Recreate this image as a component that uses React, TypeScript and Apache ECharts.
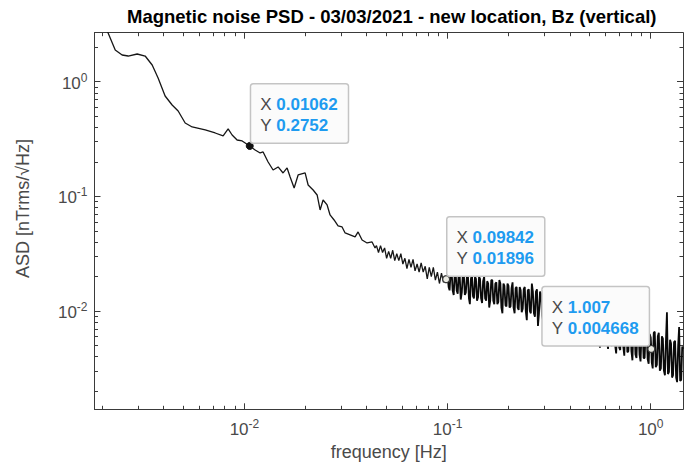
import React, { useEffect, useRef } from 'react';
import * as echarts from 'echarts';

// ---- data: [frequency Hz, ASD nTrms/√Hz] ----
const lowFreqPoints: [number, number][] = [
  [0.002018, 3.45], [0.002133, 2.659], [0.002312, 1.889], [0.0025, 1.709], [0.002679, 1.675],
  [0.002965, 1.744], [0.003246, 1.675], [0.003515, 1.398], [0.003759, 1.077], [0.00407, 0.7505],
  [0.004407, 0.6262], [0.004718, 0.5553], [0.005109, 0.4363], [0.00553, 0.4028], [0.006412, 0.3793],
  [0.007178, 0.357], [0.007856, 0.3362], [0.008315, 0.387], [0.008699, 0.343], [0.009204, 0.3102],
  [0.009748, 0.3041], [0.01062, 0.2752], [0.01129, 0.2538], [0.01195, 0.239], [0.01236, 0.2438],
  [0.01308, 0.1995], [0.01384, 0.1699], [0.01465, 0.1805], [0.0155, 0.16], [0.01622, 0.1769],
  [0.01679, 0.1476], [0.01757, 0.1183], [0.01838, 0.1537], [0.0199, 0.16], [0.02059, 0.1257],
  [0.02179, 0.1137], [0.0228, 0.1028], [0.02358, 0.0761], [0.02439, 0.09302], [0.02553, 0.08414],
  [0.0264, 0.06884], [0.02763, 0.06225], [0.02891, 0.05518], [0.03025, 0.05408], [0.03131, 0.04797],
  [0.03313, 0.04608], [0.03506, 0.04426], [0.03627, 0.04894], [0.03795, 0.04169], [0.04016, 0.03925],
  [0.0425, 0.04004], [0.04396, 0.03549],
];

const midFreqPoints: [number, number][] = [
  [0.04467, 0.03715], [0.04571, 0.03236], [0.04677, 0.03715], [0.04786, 0.03236], [0.04898, 0.03548],
  [0.05012, 0.02884], [0.05129, 0.03311], [0.05248, 0.02884], [0.0537, 0.03388], [0.05495, 0.02754],
  [0.05623, 0.03162], [0.05754, 0.02754], [0.05888, 0.03162], [0.06026, 0.0257], [0.06166, 0.02884],
  [0.0631, 0.02344], [0.06457, 0.02818], [0.06607, 0.02399], [0.06761, 0.02818], [0.06918, 0.02239],
  [0.07079, 0.0257], [0.07244, 0.02188], [0.07413, 0.0263], [0.07586, 0.02188], [0.07762, 0.02455],
  [0.07943, 0.01905], [0.08128, 0.02399], [0.08318, 0.01995], [0.08511, 0.02399], [0.0871, 0.01862],
  [0.08913, 0.02188], [0.0912, 0.01738], [0.09333, 0.02138], [0.0955, 0.01778], [0.09772, 0.01995],
  [0.09842, 0.01896],
];

const noiseBandPoints: [number, number][] = [
  [0.1, 0.02042], [0.1012, 0.01622], [0.1023, 0.01514], [0.1035, 0.02138], [0.1047, 0.02239],
  [0.1059, 0.01514], [0.1072, 0.0138], [0.1084, 0.02042], [0.1096, 0.02138], [0.1109, 0.01514],
  [0.1122, 0.01413], [0.1135, 0.02188], [0.1148, 0.01995], [0.1161, 0.01259], [0.1175, 0.01445],
  [0.1189, 0.02089], [0.1202, 0.02138], [0.1216, 0.0138], [0.123, 0.01445], [0.1245, 0.01995],
  [0.1259, 0.02089], [0.1274, 0.01288], [0.1288, 0.01148], [0.1303, 0.01905], [0.1318, 0.02089],
  [0.1334, 0.01349], [0.1349, 0.01288], [0.1365, 0.01995], [0.138, 0.01905], [0.1396, 0.0123],
  [0.1413, 0.01318], [0.1429, 0.01995], [0.1445, 0.01905], [0.1462, 0.01288], [0.1479, 0.01175],
  [0.1496, 0.0182], [0.1514, 0.01995], [0.1531, 0.01288], [0.1549, 0.0123], [0.1567, 0.0182],
  [0.1585, 0.01738], [0.1603, 0.01072], [0.1622, 0.0123], [0.1641, 0.01862], [0.166, 0.01862],
  [0.1679, 0.0123], [0.1698, 0.01148], [0.1718, 0.01738], [0.1738, 0.01778], [0.1758, 0.01148],
  [0.1778, 0.01202], [0.1799, 0.01862], [0.182, 0.01738], [0.1841, 0.01072], [0.1862, 0.00955],
  [0.1884, 0.01738], [0.1905, 0.0166], [0.1928, 0.01122], [0.195, 0.01096], [0.1972, 0.01738],
  [0.1995, 0.0166], [0.2018, 0.01072], [0.2042, 0.01096], [0.2065, 0.01585], [0.2089, 0.01778],
  [0.2113, 0.01072], [0.2138, 0.00955], [0.2163, 0.01585], [0.2188, 0.01622], [0.2213, 0.01072],
  [0.2239, 0.01023], [0.2265, 0.01622], [0.2291, 0.01514], [0.2317, 0.009772], [0.2344, 0.01047],
  [0.2371, 0.01549], [0.2399, 0.01622], [0.2427, 0.01], [0.2455, 0.008318], [0.2483, 0.01514],
  [0.2512, 0.01549], [0.2541, 0.01], [0.257, 0.00955], [0.26, 0.01738], [0.263, 0.01479],
  [0.2661, 0.00955], [0.2692, 0.008913], [0.2723, 0.01479], [0.2754, 0.01549], [0.2786, 0.007413],
  [0.2818, 0.00955],
  [0.2851, 0.01479], [0.2884, 0.01413], [0.2917, 0.00912], [0.2951, 0.008318], [0.2985, 0.0138],
  [0.302, 0.01445], [0.3055, 0.00912], [0.309, 0.008318], [0.3126, 0.0138], [0.3162, 0.01318],
  [0.3199, 0.008318], [0.3236, 0.007586], [0.3273, 0.01318], [0.3311, 0.01318], [0.335, 0.008318],
  [0.3388, 0.007943], [0.3428, 0.01318], [0.3467, 0.01259], [0.3508, 0.008318], [0.3548, 0.006918],
  [0.3589, 0.01202], [0.3631, 0.01288], [0.3673, 0.007413], [0.3715, 0.007762], [0.3758, 0.0123],
  [0.3802, 0.01175], [0.3846, 0.007413], [0.389, 0.006918], [0.3936, 0.01122], [0.3981, 0.0123],
  [0.4027, 0.007244], [0.4074, 0.006761], [0.4121, 0.01175], [0.4169, 0.01096], [0.4217, 0.006761],
  [0.4266, 0.006026], [0.4315, 0.01096], [0.4365, 0.01047], [0.4416, 0.007079], [0.4467, 0.006457],
  [0.4519, 0.01122], [0.4571, 0.01072], [0.4624, 0.006457], [0.4677, 0.005888], [0.4732, 0.01023],
  [0.4786, 0.01047], [0.4842, 0.006457], [0.4898, 0.006026], [0.4955, 0.01], [0.5012, 0.009772],
  [0.507, 0.006026], [0.5129, 0.005012], [0.5188, 0.01], [0.5248, 0.009333], [0.5309, 0.006026],
  [0.537, 0.005495], [0.5433, 0.01], [0.5495, 0.009333], [0.5559, 0.005754], [0.5623, 0.004786],
  [0.5689, 0.008913], [0.5754, 0.009333], [0.5821, 0.00537], [0.5888, 0.005248], [0.5957, 0.008913],
  [0.6026, 0.00912], [0.6095, 0.005495], [0.6166, 0.004677], [0.6237, 0.008318], [0.631, 0.00871],
  [0.6383, 0.005012], [0.6457, 0.005012], [0.6531, 0.00871], [0.6607, 0.008128], [0.6683, 0.005012],
  [0.6761, 0.004266], [0.6839, 0.008128], [0.6918, 0.008318], [0.6998, 0.004786], [0.7079, 0.004571],
  [0.7161, 0.007943], [0.7244, 0.007586], [0.7328, 0.004898], [0.7413, 0.004074], [0.7499, 0.007943],
  [0.7586, 0.007586], [0.7674, 0.004365], [0.7762, 0.004467], [0.7852, 0.007079], [0.7943, 0.007586],
  [0.8035, 0.004467], [0.8128, 0.003715], [0.8222, 0.007079], [0.8318, 0.007244], [0.8414, 0.004169],
  [0.8511, 0.00389], [0.861, 0.007244], [0.871, 0.006607], [0.881, 0.004169], [0.8913, 0.003631],
  [0.9016, 0.006607], [0.912, 0.006918], [0.9226, 0.00389], [0.9333, 0.00389], [0.9441, 0.006607],
  [0.955, 0.006457], [0.9661, 0.003802], [0.9772, 0.003467], [0.9886, 0.00631], [1.0, 0.005888],
  [1.007, 0.004668],
  [1.012, 0.003548], [1.023, 0.003162], [1.035, 0.006457], [1.047, 0.006607], [1.059, 0.003236],
  [1.072, 0.003388], [1.084, 0.006026], [1.096, 0.006457], [1.109, 0.00302], [1.122, 0.003162],
  [1.135, 0.006026], [1.148, 0.005754], [1.161, 0.00302], [1.175, 0.002754], [1.189, 0.005623],
  [1.202, 0.009772], [1.216, 0.002818], [1.23, 0.002951], [1.245, 0.005623], [1.259, 0.005248],
  [1.274, 0.00263], [1.288, 0.002754], [1.303, 0.00537], [1.318, 0.005495], [1.334, 0.00263],
  [1.349, 0.002399], [1.365, 0.005012], [1.38, 0.007244], [1.396, 0.002455], [1.413, 0.002512],
  [1.429, 0.004898], [1.445, 0.004677],
];

// data tips
const tipFreq = [0.01062, 0.09842, 1.007];
const tipAsd = [0.2752, 0.01896, 0.004668];

// axis ticks
const xMajorTicks = [0.01, 0.1, 1];
const xMinorTicks = [
  0.002, 0.003, 0.004, 0.005, 0.006, 0.007, 0.008, 0.009,
  0.02, 0.03, 0.04, 0.05, 0.06, 0.07, 0.08, 0.09,
  0.2, 0.3, 0.4, 0.5, 0.6, 0.7, 0.8, 0.9,
];
const yMajorTicks = [0.01, 0.1, 1];
const yMinorTicks = [
  0.002, 0.003, 0.004, 0.005, 0.006, 0.007, 0.008, 0.009,
  0.02, 0.03, 0.04, 0.05, 0.06, 0.07, 0.08, 0.09,
  0.2, 0.3, 0.4, 0.5, 0.6, 0.7, 0.8, 0.9, 2,
];

const titleText = 'Magnetic noise PSD - 03/03/2021 - new location, Bz (vertical)';
const xName = 'frequency [Hz]';
const yName = 'ASD [nTrms/√Hz]';

const X_MIN = 0.001828;
const X_MAX = 1.442;
const Y_MIN = 0.00139;
const Y_MAX = 2.675;

const FONT = "'Liberation Sans', Arial, Helvetica, sans-serif";
const AXIS_COLOR = '#3a3a3a';
const LABEL_COLOR = '#4a4a4a';

const powLabel = (v: number) => `{b|10}{e|${Math.round(Math.log10(v))}}`;
const powRich = {
  b: { fontSize: 17, lineHeight: 20, verticalAlign: 'bottom', color: LABEL_COLOR, fontFamily: FONT },
  e: { fontSize: 12, lineHeight: 12, verticalAlign: 'top', color: LABEL_COLOR, fontFamily: FONT },
};

function makeAxis(kind: 'x' | 'y', pos: string, major: boolean, withLabels: boolean) {
  const isX = kind === 'x';
  return {
    type: 'log',
    logBase: 10,
    position: pos,
    min: isX ? X_MIN : Y_MIN,
    max: isX ? X_MAX : Y_MAX,
    axisLine: { show: major, onZero: false, lineStyle: { color: AXIS_COLOR, width: 1 } },
    axisTick: {
      show: true,
      inside: true,
      length: major ? 6 : 3.5,
      customValues: major ? (isX ? xMajorTicks : yMajorTicks) : isX ? xMinorTicks : yMinorTicks,
      lineStyle: { color: AXIS_COLOR, width: 1 },
    },
    axisLabel: withLabels
      ? {
          show: true,
          customValues: isX ? xMajorTicks : yMajorTicks,
          formatter: powLabel,
          rich: powRich,
          margin: isX ? 9 : 7,
        }
      : { show: false },
    splitLine: { show: false },
    minorTick: { show: false },
    minorSplitLine: { show: false },
  };
}

export default function App() {
  const ref = useRef<HTMLDivElement>(null);

  useEffect(() => {
    document.body.style.margin = '0';
    if (!ref.current) return;
    const chart = echarts.init(ref.current, undefined, { renderer: 'svg' });

    const smoothData = [...lowFreqPoints, ...midFreqPoints];
    const bandData = [midFreqPoints[midFreqPoints.length - 1], ...noiseBandPoints];
    const tipOffsets = [
      { position: [5.5, 0.5], align: 'left' },
      { position: [5.5, 0.5], align: 'left' },
      { position: [1.5, 0.5], align: 'right' },
    ];
    const tipData = tipFreq.map((f, i) => ({
      value: [f, tipAsd[i]],
      symbolSize: 7,
      itemStyle:
        i === 0
          ? { color: '#111', borderColor: '#111', borderWidth: 1, opacity: 1 }
          : { color: '#ecece4', borderColor: '#3a3a3a', borderWidth: 1.3, opacity: 1 },
      label: {
        show: true,
        opacity: 1,
        position: tipOffsets[i].position,
        align: tipOffsets[i].align,
        verticalAlign: 'bottom',
        formatter: `{k|X }{v|${f}}\n{k|Y }{v|${tipAsd[i]}}`,
      },
    }));

    chart.setOption({
      animation: false,
      backgroundColor: '#ffffff',
      title: {
        text: titleText,
        left: 122,
        top: 2,
        textStyle: { fontSize: 18.5, fontWeight: 'bold', color: '#000', fontFamily: FONT },
      },
      grid: { left: 94.5, top: 32.7, right: 2, bottom: 59.7, containLabel: false, outerBoundsMode: 'none' },
      xAxis: [
        {
          ...makeAxis('x', 'bottom', true, true),
          name: xName,
          nameLocation: 'middle',
          nameGap: 33,
          nameTextStyle: { fontSize: 18, color: LABEL_COLOR, fontFamily: FONT },
        },
        makeAxis('x', 'top', true, false),
        makeAxis('x', 'bottom', false, false),
        makeAxis('x', 'top', false, false),
      ],
      yAxis: [
        makeAxis('y', 'left', true, true),
        makeAxis('y', 'right', true, false),
        makeAxis('y', 'left', false, false),
        makeAxis('y', 'right', false, false),
      ],
      graphic: [
        {
          type: 'text',
          x: 22.5,
          y: 208.5,
          rotation: Math.PI / 2,
          style: {
            text: yName,
            fontSize: 18,
            fill: LABEL_COLOR,
            fontFamily: FONT,
            align: 'center',
            verticalAlign: 'middle',
          },
        },
      ],
      series: [
        {
          type: 'line',
          xAxisIndex: 0,
          yAxisIndex: 0,
          data: smoothData,
          showSymbol: false,
          symbol: 'none',
          clip: true,
          lineStyle: { color: '#161616', width: 1.3 },
          z: 1,
        },
        {
          type: 'line',
          xAxisIndex: 0,
          yAxisIndex: 0,
          data: bandData,
          showSymbol: false,
          symbol: 'none',
          clip: true,
          lineStyle: { color: '#0a0a0a', width: 1.8 },
          z: 1,
        },
        {
          type: 'scatter',
          xAxisIndex: 0,
          yAxisIndex: 0,
          data: tipData,
          z: 10,
          clip: false,
          itemStyle: { opacity: 1 },
          label: {
            show: true,
            opacity: 1,
            backgroundColor: '#fbfbfb',
            borderColor: '#c4c4c4',
            borderWidth: 1.5,
            borderRadius: 2,
            padding: [9, 10, 6, 9],
            rich: {
              k: { fontSize: 17, lineHeight: 21.5, align: 'left', color: '#4a4a4a', fontFamily: FONT },
              v: {
                fontSize: 17,
                lineHeight: 21.5,
                align: 'left',
                fontWeight: 'bold',
                color: '#1e9bf0',
                fontFamily: FONT,
              },
            },
          },
        },
      ],
    });

    return () => chart.dispose();
  }, []);

  return <div ref={ref} style={{ width: 685, height: 469 }} />;
}
